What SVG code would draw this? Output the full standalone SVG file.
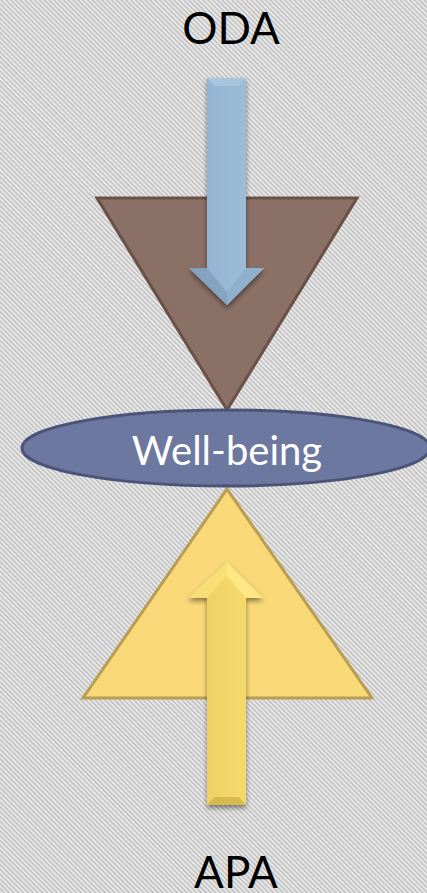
<svg xmlns="http://www.w3.org/2000/svg" width="427" height="893" viewBox="0 0 427 893">
<defs>
<pattern id="bg" width="3.4" height="10" patternUnits="userSpaceOnUse" patternTransform="rotate(-45)">
<rect width="3.4" height="10" fill="#e8e8e8"/>
<rect width="1.4" height="10" fill="#bdbdbd"/>
</pattern>
<linearGradient id="blueShaft" x1="0" y1="0" x2="1" y2="0">
<stop offset="0" stop-color="#7f9fbd"/>
<stop offset="0.15" stop-color="#93b3d0"/>
<stop offset="0.8" stop-color="#9cbcd8"/>
<stop offset="1" stop-color="#aecbe3"/>
</linearGradient>
<linearGradient id="yelShaft" x1="0" y1="0" x2="1" y2="0">
<stop offset="0" stop-color="#c9a844"/>
<stop offset="0.15" stop-color="#ecd064"/>
<stop offset="0.8" stop-color="#f5da6c"/>
<stop offset="1" stop-color="#ffe77c"/>
</linearGradient>
<filter id="sh" x="-30%" y="-10%" width="160%" height="130%">
<feGaussianBlur in="SourceAlpha" stdDeviation="2.5"/>
<feOffset dx="0" dy="3" result="b"/>
<feComponentTransfer><feFuncA type="linear" slope="0.45"/></feComponentTransfer>
<feMerge><feMergeNode/><feMergeNode in="SourceGraphic"/></feMerge>
</filter>
<style>
.lbl{font-family:"Gill Sans","Lato","Liberation Sans",sans-serif;text-anchor:middle}
</style>
</defs>
<rect width="427" height="893" fill="url(#bg)"/>

<g id="brown-triangle">
<polygon points="97,198 357,198 227,410" fill="#8b7066" stroke="#6b5045" stroke-width="3" stroke-linejoin="miter"/>
</g>

<g id="yellow-triangle">
<polygon points="227,489 372,698 83,698" fill="#f9d878" stroke="#b89d52" stroke-width="3"/>
</g>

<g id="well-being">
<ellipse cx="226" cy="448" rx="204" ry="38" fill="#6d78a0" stroke="#4b5378" stroke-width="3"/>
<text class="lbl" x="227" y="465" font-size="40" fill="#ffffff">Well-being</text>
</g>

<g id="oda">
<text class="lbl" x="231" y="44" font-size="44" fill="#000000">ODA</text>
</g>

<g id="apa">
<text class="lbl" x="236" y="888" font-size="44" fill="#000000">APA</text>
</g>

<g id="connectors">
<g id="oda-arrow" filter="url(#sh)">
<polygon points="207,78 246,78 246,268 264,268 227,305 189,268 207,268" fill="url(#blueShaft)"/>
<polygon points="207,78 246,78 239,86 214,86" fill="#a9c5de"/>
<polygon points="189,268 207,268 227,292 227,305" fill="#7f9fbd" opacity="0.8"/>
<polygon points="264,268 246,268 227,292 227,305" fill="#8fb0cd"/>
</g>
<g id="apa-arrow" filter="url(#sh)">
<polygon points="227,562 263,598 246,598 246,805 207,805 207,598 188,598" fill="url(#yelShaft)"/>
<polygon points="227,562 188,598 207,598 227,576" fill="#f7de74"/>
<polygon points="227,562 263,598 246,598 227,576" fill="#ffe883"/>
<polygon points="207,805 246,805 239,797 214,797" fill="#d8b850"/>
</g>
</g>
</svg>
